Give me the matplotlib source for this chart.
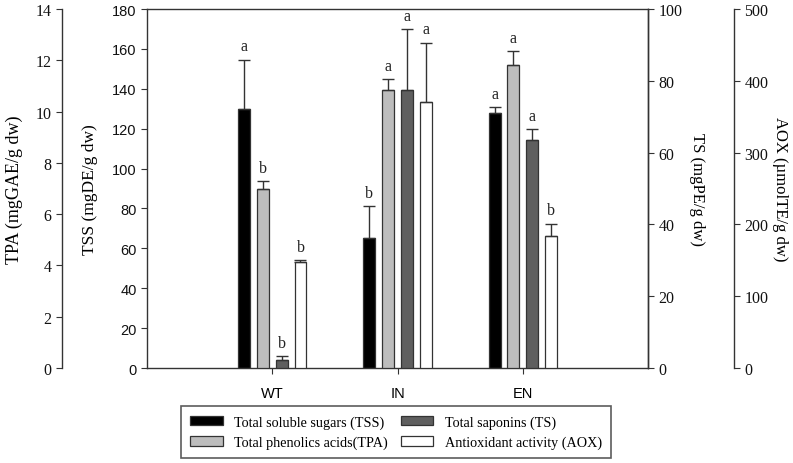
import matplotlib.pyplot as plt
import numpy as np

groups = ['WT', 'IN', 'EN']

# bar heights and upper error, each on its own axis
tss = [130, 65, 128]
tss_err = [24.5, 16, 2.7]
tpa = [7.0, 10.84, 11.83]
tpa_err = [0.28, 0.42, 0.53]
ts = [2.3, 77.4, 63.5]
ts_err = [1.0, 17, 3]
aox = [147, 370, 184]
aox_err = [3, 83, 17]

tss_letters = ['a', 'b', 'a']
tpa_letters = ['b', 'a', 'a']
ts_letters = ['b', 'a', 'a']
aox_letters = ['b', 'a', 'b']

serif = 'Liberation Serif'
sans = 'Liberation Sans'
dark = '#333333'

fig = plt.figure(figsize=(7.93, 4.64), dpi=100)
ax = fig.add_axes([0.1854, 0.2047, 0.6318, 0.7737])
ax_tpa = ax.twinx()
ax_ts = ax.twinx()
ax_aox = ax.twinx()

x = np.arange(len(groups))
w = 0.095
offs = [-0.225, -0.075, 0.075, 0.225]

series = [
    (ax, tss, tss_err, tss_letters, 'black', 'Total soluble sugars (TSS)'),
    (ax_tpa, tpa, tpa_err, tpa_letters, '#bdbdbd', 'Total phenolics acids(TPA)'),
    (ax_ts, ts, ts_err, ts_letters, '#5f5f5f', 'Total saponins (TS)'),
    (ax_aox, aox, aox_err, aox_letters, 'white', 'Antioxidant activity (AOX)'),
]

handles = []
for (a, vals, err, letters, col, lab), off in zip(series, offs):
    b = a.bar(x + off, vals, w, color=col, edgecolor=dark, linewidth=0.9, label=lab, zorder=2)
    handles.append(b)
    a.errorbar(x + off, vals, yerr=[np.zeros(3), err], fmt='none', ecolor=dark,
               elinewidth=1, capsize=4, capthick=1, zorder=3)
    for xi, v, e, l in zip(x + off, vals, err, letters):
        a.annotate(l, (xi, v + e), xytext=(0, 4), textcoords='offset points',
                   ha='center', va='bottom', fontsize=11.5, family=serif, color='#222222')

ax.set_xlim(-1, 3)
ax.set_ylim(0, 180)
ax.set_yticks(range(0, 181, 20))
ax_tpa.set_ylim(0, 14)
ax_tpa.set_yticks(range(0, 15, 2))
ax_ts.set_ylim(0, 100)
ax_ts.set_yticks(range(0, 101, 20))
ax_aox.set_ylim(0, 500)
ax_aox.set_yticks(range(0, 501, 100))

ax.set_xticks(x)
ax.set_xticklabels(groups, family=sans, fontsize=10.5)
ax.tick_params(axis='x', length=4, color=dark, pad=9)
ax.tick_params(axis='y', length=4, color=dark, labelsize=10.5, labelcolor='#111111')
for lbl in ax.get_yticklabels():
    lbl.set_family(sans)

# outer left axis for TPA
ax_tpa.yaxis.set_ticks_position('left')
ax_tpa.yaxis.set_label_position('left')
ax_tpa.spines['left'].set_position(('axes', -0.1697))
for s in ['right', 'top', 'bottom']:
    ax_tpa.spines[s].set_visible(False)

# outer right axis for AOX
ax_aox.spines['right'].set_position(('axes', 1.1717))
for s in ['left', 'top', 'bottom']:
    ax_aox.spines[s].set_visible(False)

for s in ['left', 'top', 'bottom']:
    ax_ts.spines[s].set_visible(False)

for a in [ax_tpa, ax_ts, ax_aox]:
    a.tick_params(axis='y', length=4, color=dark, labelsize=11.5, labelcolor='#111111')
    for lbl in a.get_yticklabels():
        lbl.set_family(serif)

for a in [ax, ax_tpa, ax_ts, ax_aox]:
    for s in a.spines.values():
        s.set_color(dark)
        s.set_linewidth(1)

ax.set_ylabel('TSS (mgDE/g dw)', family=serif, fontsize=12.5, va='center')
ax.yaxis.set_label_coords(-0.114, 0.5)
ax_tpa.set_ylabel('TPA (mgGAE/g dw)', family=serif, fontsize=13, va='center')
ax_tpa.yaxis.set_label_coords(-0.265, 0.5)
ax_ts.set_ylabel('TS (mgPE/g dw)', family=serif, fontsize=12, rotation=-90, va='center')
ax_ts.yaxis.set_label_coords(1.098, 0.5)
ax_aox.set_ylabel('AOX (µmolTE/g dw)', family=serif, fontsize=12, rotation=-90, va='center')
ax_aox.yaxis.set_label_coords(1.263, 0.5)

leg = fig.legend(handles=handles, loc='center', ncol=2,
                 bbox_to_anchor=(0.4994, 0.0665),
                 prop={'family': serif, 'size': 10.2}, frameon=True, fancybox=False,
                 edgecolor=dark, handlelength=2.3, handleheight=0.65,
                 columnspacing=0.9, handletextpad=0.8, borderpad=0.65,
                 borderaxespad=0, labelspacing=0.5)
leg.get_frame().set_linewidth(1.2)

fig.savefig('out.png', dpi=100)
